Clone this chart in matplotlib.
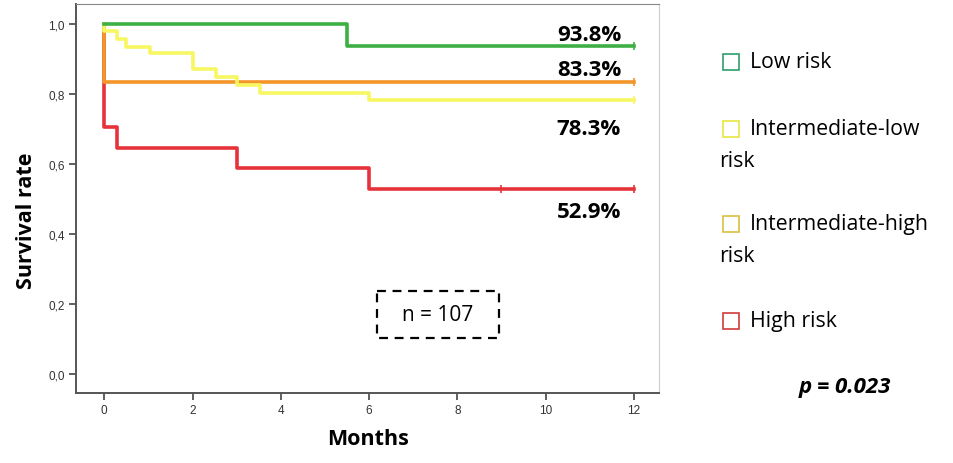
import numpy as np
import matplotlib
matplotlib.use('Agg')
import matplotlib.pyplot as plt
from matplotlib.patches import Rectangle

# Kaplan-Meier steps
low_t = [0, 5.5, 12]
low_s = [1.0, 0.938, 0.938]
intlow_t = [0, 0, 0.29, 0.49, 1.03, 2.0, 2.53, 3.0, 3.53, 6.0, 12]
intlow_s = [1.0, 0.981, 0.957, 0.935, 0.916, 0.871, 0.848, 0.826, 0.803, 0.783, 0.783]
inthigh_t = [0, 0, 12]
inthigh_s = [1.0, 0.833, 0.833]
high_t = [0, 0, 0.28, 3.0, 6.0, 12]
high_s = [1.0, 0.706, 0.647, 0.588, 0.529, 0.529]

censor_low = ([12], [0.938])
censor_intlow = ([3.0, 12], [0.833, 0.783])
censor_inthigh = ([12], [0.833])
censor_high = ([9.0, 12], [0.529, 0.529])

pct_labels = ['93.8%', '83.3%', '78.3%', '52.9%']
pct_y = [0.971, 0.871, 0.70, 0.463]

groups = ['Low risk', 'Intermediate-low\nrisk', 'Intermediate-high\nrisk', 'High risk']
xticks = [0, 2, 4, 6, 8, 10, 12]
yticks = [0.0, 0.2, 0.4, 0.6, 0.8, 1.0]

c_green = '#3cb043'
c_yellow = '#f7f762'
c_orange = '#f3952a'
c_red = '#e6333a'

W, H = 954, 464
fig = plt.figure(figsize=(W / 100, H / 100), dpi=100)
ax = fig.add_axes([76 / W, (H - 394) / H, (659 - 76) / W, (394 - 5) / H])

lw = 2.6
ax.step(high_t, high_s, where='post', color=c_red, lw=lw)
ax.step(inthigh_t, inthigh_s, where='post', color=c_orange, lw=lw)
ax.step(intlow_t, intlow_s, where='post', color=c_yellow, lw=lw)
ax.step(low_t, low_s, where='post', color=c_green, lw=lw)
for (cx, cy), col in [(censor_high, c_red), (censor_inthigh, c_orange),
                      (censor_intlow, c_yellow), (censor_low, c_green)]:
    ax.plot(cx, cy, ls='none', marker='|', ms=6, mew=1.2, color=col)

for lab, yy in zip(pct_labels, pct_y):
    ax.text(11.71, yy, lab, ha='right', va='center', fontsize=16,
            fontweight='bold', family='Open Sans')

ax.set_xlim(-0.64, 12.57)
ax.set_ylim(-0.054, 1.057)
ax.set_xticks(xticks)
ax.set_yticks(yticks)
ax.set_xticklabels([str(v) for v in xticks])
ax.set_yticklabels([('%.1f' % v).replace('.', ',') for v in yticks])
ax.tick_params(labelsize=8.5, labelcolor='#333333', color='#444444',
               length=5, width=1.2, pad=3)
for t in ax.get_xticklabels() + ax.get_yticklabels():
    t.set_family('Liberation Sans')
ax.spines['left'].set_color('#555555')
ax.spines['bottom'].set_color('#555555')
ax.spines['left'].set_linewidth(1.4)
ax.spines['bottom'].set_linewidth(1.4)
ax.spines['top'].set_color('#888888')
ax.spines['right'].set_color('#cccccc')

# overlay in pixel coordinates for labels / legend / box
ov = fig.add_axes([0, 0, 1, 1])
ov.set_xlim(0, W)
ov.set_ylim(H, 0)
ov.axis('off')
ov.patch.set_alpha(0)

ov.text(27, 221, 'Survival rate', rotation=90, ha='center', va='center',
        fontsize=15.5, fontweight='bold', family='Open Sans')
ov.text(368, 440, 'Months', ha='center', va='center',
        fontsize=15.5, fontweight='bold', family='Open Sans')

ov.add_patch(Rectangle((377, 292), 122, 47, fill=False, ls=(0, (4, 3)),
                       lw=1.6, ec='black'))
ov.text(438, 316, 'n = 107', ha='center', va='center', fontsize=15,
        family='Open Sans')

leg_y = [63, 130, 225, 322]
leg_c = ['#2f9e6b', '#e6e640', '#d9c040', '#d23c3c']
for g, yy, col in zip(groups, leg_y, leg_c):
    ov.plot([731], [yy], marker='s', ms=12, mfc='white', mec=col, mew=1.2)
    lines = g.split('\n')
    ov.text(750, yy, lines[0], ha='left', va='center', fontsize=15.3,
            family='Open Sans')
    if len(lines) > 1:
        ov.text(719, yy + 32, lines[1], ha='left', va='center', fontsize=15.3,
                family='Open Sans')

ov.text(845, 388, 'p = 0.023', ha='center', va='center', fontsize=16,
        fontweight='bold', style='italic', family='Open Sans')

fig.savefig('out.png', dpi=100)
